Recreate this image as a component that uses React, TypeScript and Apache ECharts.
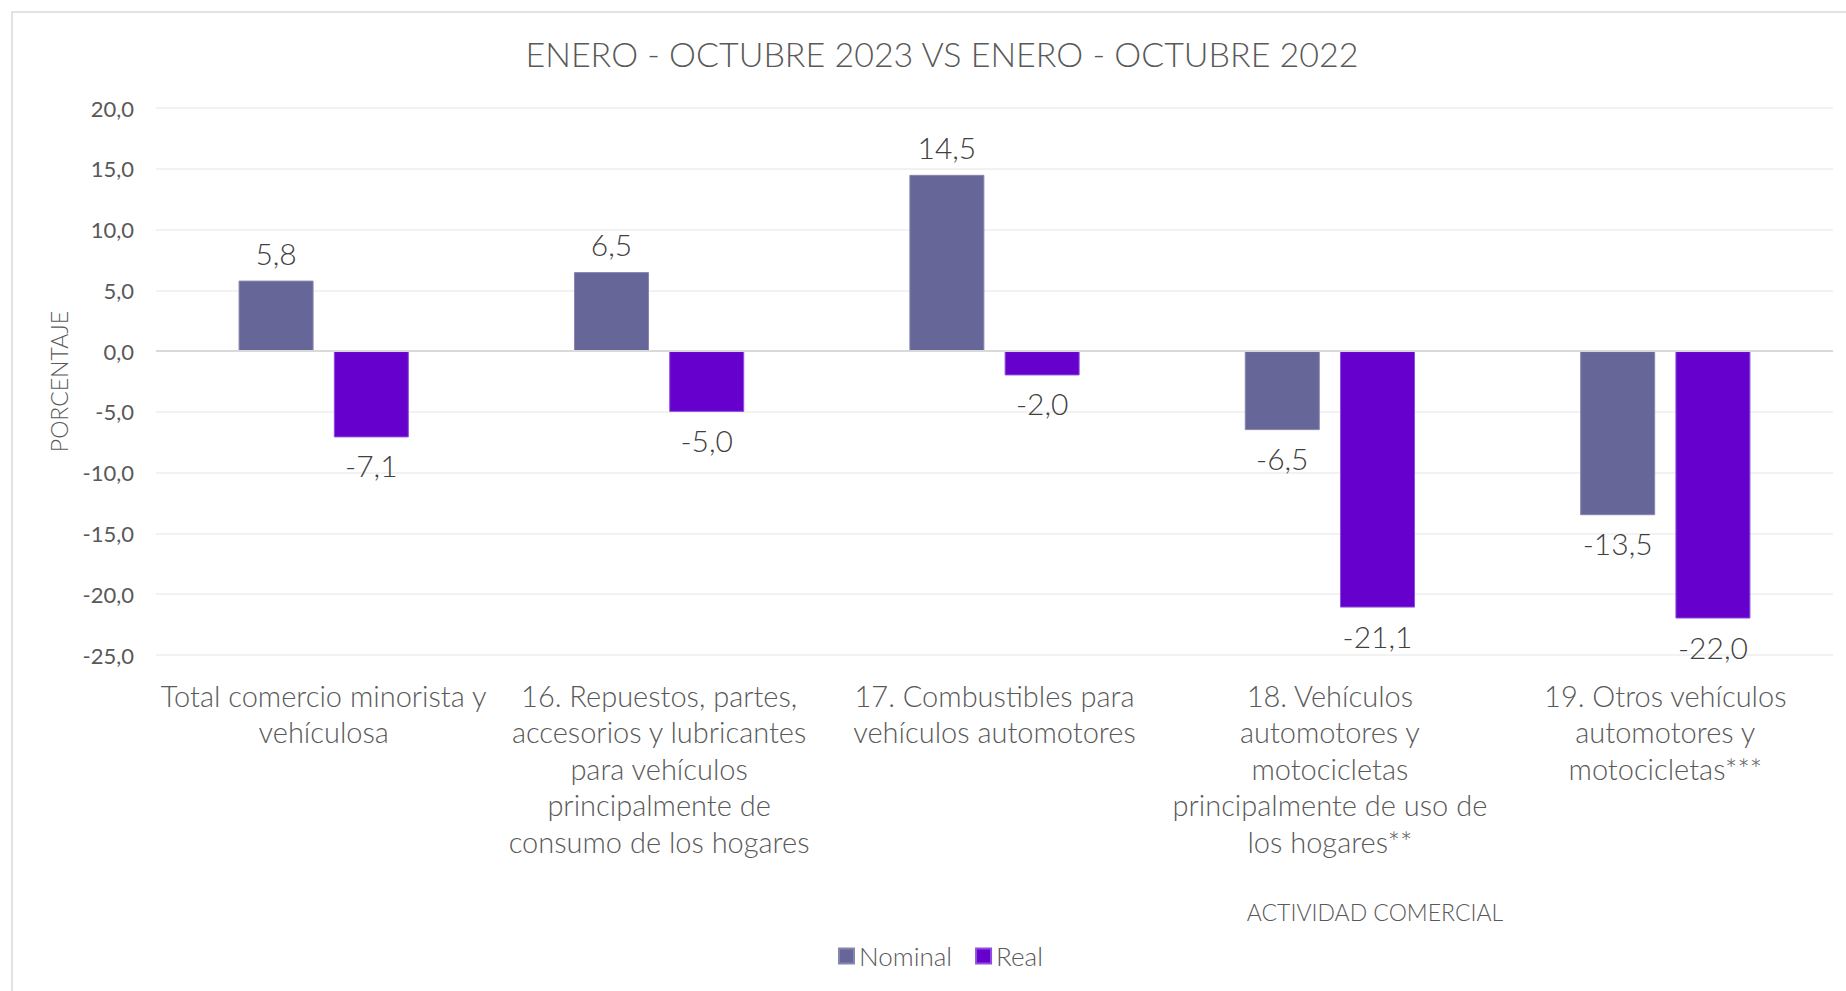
import React, { useEffect, useRef } from "react";
import * as echarts from "echarts";

const categories = [
  "Total comercio minorista y\nvehículosa",
  "16. Repuestos, partes,\naccesorios y lubricantes\npara vehículos\nprincipalmente de\nconsumo de los hogares",
  "17. Combustibles para\nvehículos automotores",
  "18. Vehículos\nautomotores y\nmotocicletas\nprincipalmente de uso de\nlos hogares**",
  "19. Otros vehículos\nautomotores y\nmotocicletas***",
];
const nominal = [5.8, 6.5, 14.5, -6.5, -13.5];
const real = [-7.1, -5.0, -2.0, -21.1, -22.0];
const seriesNames = ["Nominal", "Real"];
const colors = ["#666699", "#6600CC"];
const titleText = "ENERO - OCTUBRE 2023 VS ENERO - OCTUBRE 2022";
const yAxisName = "PORCENTAJE";
const xAxisName = "ACTIVIDAD COMERCIAL";

const FONT = "Lato, 'Open Sans', sans-serif";
const fmt = (v: number) => v.toFixed(1).replace(".", ",");

function makeData(vals: number[]) {
  return vals.map((v) => ({
    value: v,
    label: { position: v < 0 ? "bottom" : "top" },
  }));
}

export default function App() {
  const ref = useRef<HTMLDivElement>(null);
  useEffect(() => {
    if (!ref.current) return;
    const chart = echarts.init(ref.current, null, { renderer: "svg" });
    const labelCfg = {
      show: true,
      distance: 13,
      fontFamily: FONT,
      fontWeight: 300,
      fontSize: 30,
      color: "#404040",
      formatter: (p: any) => fmt(p.value),
    };
    chart.setOption({
      animation: false,
      backgroundColor: "#ffffff",
      title: {
        text: titleText,
        left: 937,
        textAlign: "center",
        top: 31,
        textStyle: {
          fontFamily: FONT,
          fontWeight: 300,
          fontSize: 34,
          color: "#595959",
        },
      },
      legend: {
        data: seriesNames,
        left: 833,
        top: 938,
        itemWidth: 15,
        itemHeight: 15,
        itemGap: 23,
        icon: "rect",
        textStyle: {
          fontFamily: FONT,
          fontWeight: 300,
          fontSize: 26,
          color: "#595959",
        },
      },
      grid: { left: 156, right: 13, top: 108, bottom: 336 },
      xAxis: {
        type: "category",
        data: categories,
        axisLine: { show: false },
        axisTick: { show: false },
        axisLabel: {
          interval: 0,
          margin: 22,
          fontFamily: FONT,
          fontWeight: 300,
          fontSize: 29,
          lineHeight: 36.5,
          color: "#595959",
          align: "center",
          verticalAlign: "top",
        },
      },
      yAxis: {
        type: "value",
        min: -25,
        max: 20,
        interval: 5,
        name: yAxisName,
        nameLocation: "middle",
        nameGap: 86,
        nameTextStyle: {
          fontFamily: FONT,
          fontWeight: 300,
          fontSize: 23,
          color: "#595959",
        },
        axisLine: { show: false },
        axisTick: { show: false },
        axisLabel: {
          margin: 22,
          fontFamily: FONT,
          fontSize: 22,
          color: "#595959",
          formatter: (v: number) => fmt(v),
        },
        splitLine: { lineStyle: { color: "#eeeeee", width: 1.5 } },
      },
      graphic: [
        {
          type: "rect",
          shape: { x: 12, y: 12, width: 1900, height: 1100 },
          style: { fill: "none", stroke: "#d9d9d9", lineWidth: 1.5 },
          silent: true,
          z: -1,
        },
        {
          type: "text",
          x: 1375,
          y: 912,
          style: {
            text: xAxisName,
            fontFamily: FONT,
            fontWeight: 300,
            fontSize: 23,
            fill: "#595959",
            textAlign: "center",
            textVerticalAlign: "middle",
          },
        },
      ],
      series: [
        {
          name: seriesNames[0],
          type: "bar",
          data: makeData(nominal),
          barWidth: 75,
          barGap: "27%",
          itemStyle: { color: colors[0], borderColor: "#8585b0", borderWidth: 1 },
          label: labelCfg,
          markLine: {
            silent: true,
            symbol: "none",
            label: { show: false },
            lineStyle: { color: "#d9d9d9", width: 2, type: "solid" },
            data: [{ yAxis: 0 }],
          },
        },
        {
          name: seriesNames[1],
          type: "bar",
          data: makeData(real),
          barWidth: 75,
          barGap: "27%",
          itemStyle: { color: colors[1], borderColor: "#8f4ee0", borderWidth: 1 },
          label: labelCfg,
        },
      ],
    });
    return () => chart.dispose();
  }, []);
  return (
    <div
      ref={ref}
      style={{ position: "absolute", left: 0, top: 0, width: 1846, height: 991 }}
    />
  );
}
